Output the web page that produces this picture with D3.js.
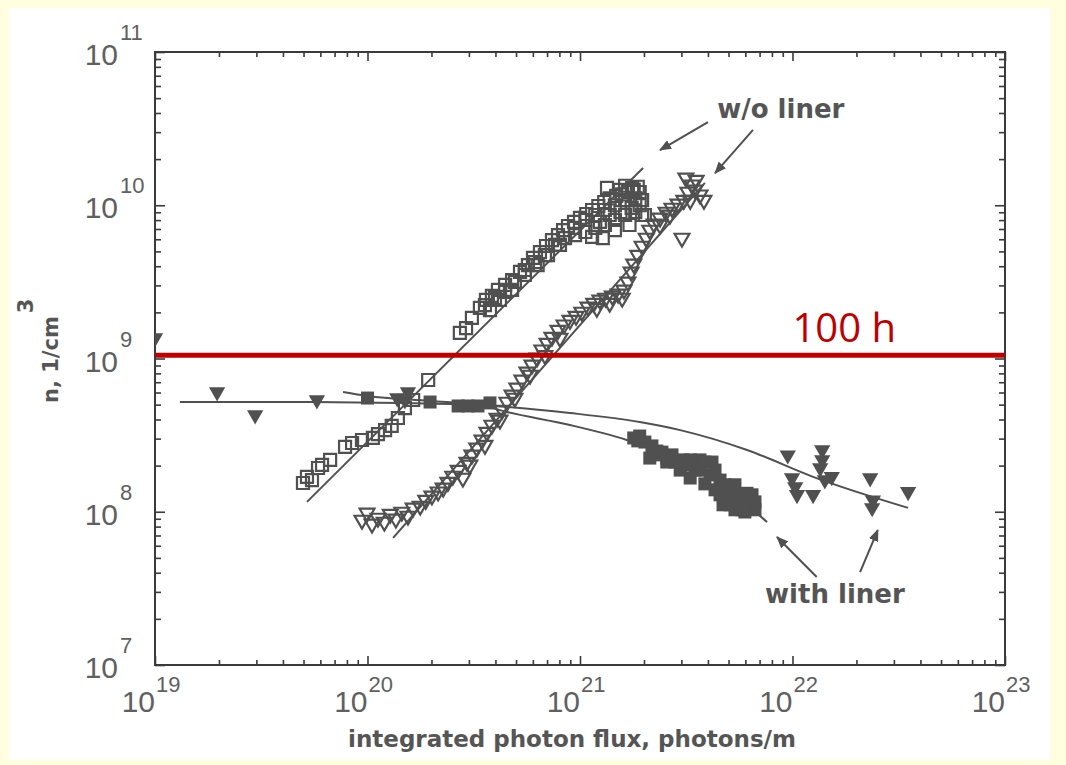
<!DOCTYPE html>
<html><head><meta charset="utf-8">
<script src="https://cdn.jsdelivr.net/npm/d3@7"></script>
<style>body{margin:0;background:#ffffe0;} svg{display:block}</style>
</head><body><svg id="c" width="1066" height="765"></svg>
<script>
// ---- axis ticks / labels ----
const xMajor = [1e19, 1e20, 1e21, 1e22, 1e23];
const xMajorSup = ["19", "20", "21", "22", "23"];
const yMajor = [1e7, 1e8, 1e9, 1e10, 1e11];
const yMajorSup = ["7", "8", "9", "10", "11"];
const xTitle = "integrated photon flux, photons/m";
const yTitle = "n, 1/cm";
const yTitleSup = "3";

// ---- w/o liner: open squares ----
const sqOpen = [
[4.97e19,1.54e8],[5.19e19,1.69e8],[5.48e19,1.61e8],[5.85e19,1.93e8],[6.11e19,2.02e8],[6.67e19,2.18e8],
[7.84e19,2.65e8],[8.46e19,2.81e8],[9.42e19,2.94e8],[1.06e20,3.03e8],[1.12e20,3.21e8],[1.21e20,3.41e8],
[1.30e20,3.63e8],[1.39e20,4.09e8],[1.50e20,4.75e8],[1.64e20,5.36e8],[1.93e20,7.24e8],[2.72e20,1.47e9],
[2.91e20,1.58e9],[3.10e20,1.84e9],[3.38e20,2.14e9],[3.61e20,2.41e9],[3.77e20,2.07e9],[3.85e20,2.56e9],
[4.11e20,2.80e9],[4.20e20,2.41e9],[4.44e20,3.02e9],[4.79e20,3.25e9],[4.79e20,2.80e9],[5.22e20,3.67e9],
[5.50e20,3.51e9],[5.69e20,4.07e9],[6.01e20,4.53e9],[6.32e20,4.07e9],[6.48e20,4.95e9],[6.92e20,5.42e9],
[7.07e20,4.73e9],[7.38e20,5.93e9],[7.88e20,6.39e9],[8.05e20,5.51e9],[8.32e20,6.89e9],[8.78e20,7.32e9],
[9.37e20,7.78e9],[9.48e20,6.39e9],[1.0e21,8.26e9],[1.07e21,8.77e9],[1.14e21,9.31e9],[1.14e21,6.21e9],
[1.22e21,9.89e9],[1.24e21,7.78e9],[1.28e21,6.11e9],[1.30e21,1.05e10],[1.34e21,1.30e10],[1.38e21,1.11e10],
[1.38e21,8.64e9],[1.46e21,6.89e9],[1.48e21,1.15e10],[1.55e21,9.03e9],[1.58e21,1.18e10],[1.63e21,1.34e10],
[1.68e21,1.22e10],[1.71e21,7.43e9],[1.75e21,9.6e9],[1.79e21,1.26e10],[1.87e21,1.32e10],[1.91e21,1.22e10],
[1.91e21,1.00e10],[2.02e21,8.64e9],
[6.14e20,4.26e9],[6.84e20,4.73e9],[7.63e20,5.51e9],[8.50e20,6.11e9],[9.46e20,7.11e9],[1.06e21,8.01e9],
[1.06e21,6.69e9],[1.18e21,8.64e9],[1.18e21,7.11e9],[1.31e21,9.31e9],[1.31e21,7.43e9],[1.46e21,1.00e10],
[1.46e21,8.01e9],[1.63e21,1.08e10],[1.63e21,8.64e9],[1.82e21,1.11e10],[1.82e21,9.03e9],[1.96e21,1.08e10],
[1.96e21,8.64e9],[1.54e21,1.26e10],[1.76e21,1.30e10],
[3.57e20,2.23e9],[3.98e20,2.48e9],[4.44e20,2.72e9],[4.94e20,3.16e9],[5.50e20,3.78e9]
];

// ---- w/o liner: open down-triangles ----
const triOpen = [
[9.42e19,8.83e7],[9.95e19,9.82e7],[1.05e20,8.32e7],[1.12e20,9.10e7],[1.20e20,8.57e7],[1.28e20,9.66e7],
[1.36e20,8.97e7],[1.45e20,9.96e7],[1.55e20,9.38e7],[1.64e20,1.06e8],[1.77e20,1.09e8],[1.88e20,1.19e8],
[2.01e20,1.27e8],[2.15e20,1.35e8],[2.27e20,1.43e8],[2.39e20,1.56e8],[2.52e20,1.71e8],[2.67e20,1.87e8],
[2.81e20,1.66e8],[2.94e20,2.11e8],[3.03e20,2.02e8],[3.10e20,2.35e8],[3.27e20,2.61e8],[3.46e20,2.94e8],
[3.57e20,2.72e8],[3.65e20,3.31e8],[3.85e20,3.68e8],[4.07e20,4.09e8],[4.20e20,3.97e8],[4.30e20,4.61e8],
[4.53e20,5.20e8],[4.79e20,5.78e8],[4.94e20,5.52e8],[5.05e20,6.42e8],[5.33e20,7.24e8],[5.63e20,8.17e8],
[5.82e20,7.80e8],[5.94e20,9.08e8],[6.28e20,1.01e9],[6.62e20,1.14e9],[6.84e20,1.05e9],[7.00e20,1.26e9],
[7.38e20,1.38e9],[7.88e20,1.53e9],[8.05e20,1.36e9],[8.41e20,1.66e9],[8.97e20,1.78e9],[9.58e20,1.89e9],
[1.02e21,2.01e9],[1.09e21,2.17e9],[1.16e21,2.30e9],[1.24e21,2.41e9],[1.32e21,2.48e9],[1.42e21,2.56e9],
[1.51e21,2.64e9],[1.61e21,2.80e9],[1.68e21,3.16e9],[1.74e21,3.67e9],[1.79e21,4.14e9],[1.87e21,4.73e9],
[1.96e21,5.42e9],[2.05e21,6.11e9],[2.13e21,6.89e9],[2.23e21,7.55e9],[2.38e21,8.26e9],[2.54e21,9.03e9],
[2.71e21,9.59e9],[2.89e21,1.02e10],[3.08e21,1.08e10],[3.22e21,1.22e10],[3.37e21,1.36e10],[3.52e21,1.46e10],
[3.67e21,1.17e10],[3.83e21,1.08e10],[3.02e21,6.11e9],[3.15e21,1.51e10],
[1.20e21,2.13e9],[1.38e21,2.30e9],[1.58e21,2.48e9],[2.38e21,7.43e9],[2.65e21,8.64e9],[3.30e21,1.08e10],[3.48e21,1.26e10]
];

// ---- with liner: filled squares ----
const sqFilled = [
[1.0e20,5.52e8],[1.97e20,5.20e8],[2.67e20,4.90e8],[2.97e20,4.90e8],[3.31e20,4.90e8],[3.77e20,5.13e8],
[1.79e21,3.03e8],[2.02e21,2.85e8],[2.30e21,2.49e8],[2.56e21,2.24e8],[3.05e21,2.18e8],[3.67e21,2.18e8],
[4.18e21,2.11e8],[4.56e21,1.61e8],[5.36e21,1.50e8],[6.11e21,1.32e8],[6.66e21,1.16e8],[1.87e21,2.90e8],
[2.13e21,2.24e8],[2.56e21,2.11e8],[2.96e21,1.87e8],[3.30e21,1.66e8],[3.87e21,1.52e8],[4.32e21,1.39e8],
[4.71e21,1.11e8],[5.36e21,1.03e8],[5.97e21,9.96e7],[6.66e21,1.03e8],[2.38e21,2.35e8],[3.48e21,1.87e8],
[4.09e21,1.74e8],[5.08e21,1.29e8],[5.66e21,1.19e8],
[1.91e21,3.12e8],[2.18e21,2.69e8],[2.43e21,2.45e8],[2.71e21,2.35e8],[3.30e21,2.18e8],[3.87e21,2.11e8],
[4.32e21,1.87e8],[4.81e21,1.50e8],[5.36e21,1.29e8],[5.97e21,1.11e8],[6.45e21,1.29e8],[3.67e21,1.87e8],
[3.12e21,2.02e8],[2.80e21,2.11e8],[4.56e21,1.29e8],[5.08e21,1.11e8],[5.78e21,1.03e8]
];

// ---- with liner: filled down-triangles ----
const triFilled = [
[1e19,1.36e9],[1.96e19,6.04e8],[2.96e19,4.28e8],[5.78e19,5.36e8],[1.38e20,5.52e8],[1.50e20,5.36e8],
[1.55e20,6.04e8],[9.5e21,2.34e8],[9.95e21,1.66e8],[1.03e22,1.45e8],[1.05e22,1.29e8],[1.25e22,1.29e8],
[1.35e22,1.93e8],[1.38e22,2.18e8],[1.38e22,2.53e8],[1.42e22,1.61e8],[1.53e22,1.69e8],[2.32e22,1.66e8],
[2.37e22,1.06e8],[2.39e22,1.19e8],[3.5e22,1.35e8]
];

// ---- fit lines / curves ----
const fitSqOpen = [[5.19e19,1.16e8],[1.98e21,1.75e10]];
const fitTriOpen = [[1.32e20,6.75e7],[3.87e21,1.40e10]];
const curveTriFilled = [[1.31e19,5.20e8],[4.81e19,5.20e8],[1.42e20,5.13e8],[3.38e20,4.97e8],[4.53e20,4.83e8],
  [8.97e20,4.41e8],[1.91e21,3.85e8],[2.96e21,3.41e8],[6.11e21,2.53e8],[1.25e22,1.69e8],[3.50e22,1.06e8]];
const curveSqFilled = [[7.67e19,6.04e8],[1.0e20,5.69e8],[1.97e20,5.28e8],[3.38e20,4.97e8],[4.53e20,4.48e8],
  [8.97e20,3.68e8],[1.66e21,2.94e8],[2.96e21,2.18e8],[4.56e21,1.52e8],[7.59e21,8.57e7]];

// ---- reference level and annotations ----
const refLevel = 1.05e9;
const refLabel = {text: "100 h", x: 1.0e22, y: 1.28e9};
const notes = [{text: "w/o liner", x: 4.42e21, y: 3.71e10}, {text: "with liner", x: 7.43e21, y: 2.54e7}];
const arrows = [
  [4.0e21,3.49e10, 2.38e21,2.29e10],
  [6.52e21,3.10e10, 4.32e21,1.62e10],
  [1.30e22,3.75e7, 8.45e21,6.84e7],
  [2.08e22,4.04e7, 2.52e22,7.60e7]
];

// ---------------- drawing ----------------
const svg = d3.select("#c");
const L = 155, R = 1005, T = 52, B = 665;
const x = d3.scaleLog().domain([1e19, 1e23]).range([L, R]);
const y = d3.scaleLog().domain([1e7, 1e11]).range([B, T]);
const ink = "#505050";

svg.append("rect").attr("x", 9).attr("y", 8).attr("width", 1041).attr("height", 752).attr("fill", "#ffffff");

const defs = svg.append("defs");
defs.append("clipPath").attr("id", "clip").append("rect").attr("x", L).attr("y", T).attr("width", R - L).attr("height", B - T);
defs.append("marker").attr("id", "ah").attr("viewBox", "0 0 12 10").attr("refX", 11).attr("refY", 5)
  .attr("markerWidth", 12).attr("markerHeight", 10).attr("markerUnits", "userSpaceOnUse").attr("orient", "auto")
  .append("path").attr("d", "M0,0 L12,5 L0,10 Z").attr("fill", ink);

// axes (ticks inside, mirrored)
const xMinor = x.ticks().filter(v => !xMajor.some(m => Math.abs(m - v) / m < 1e-6));
const yMinor = y.ticks().filter(v => !yMajor.some(m => Math.abs(m - v) / m < 1e-6));
function axisG(axis, tx, ty) {
  const g = svg.append("g").attr("transform", `translate(${tx},${ty})`).call(axis);
  g.select(".domain").remove();
  g.selectAll("line").attr("stroke", "#3a3a3a").attr("stroke-width", 1.6);
  g.selectAll("text").remove();
  return g;
}
axisG(d3.axisBottom(x).tickValues(xMinor).tickSize(-5), 0, B);
axisG(d3.axisBottom(x).tickValues(xMajor).tickSize(-9), 0, B);
axisG(d3.axisTop(x).tickValues(xMinor).tickSize(-5), 0, T);
axisG(d3.axisTop(x).tickValues(xMajor).tickSize(-9), 0, T);
axisG(d3.axisLeft(y).tickValues(yMinor).tickSize(-6), L, 0);
axisG(d3.axisLeft(y).tickValues(yMajor).tickSize(-10), L, 0);
axisG(d3.axisRight(y).tickValues(yMinor).tickSize(-6), R, 0);
axisG(d3.axisRight(y).tickValues(yMajor).tickSize(-10), R, 0);
svg.append("rect").attr("x", L).attr("y", T).attr("width", R - L).attr("height", B - T)
  .attr("fill", "none").attr("stroke", "#3a3a3a").attr("stroke-width", 2);

// tick labels
const lab = svg.append("g").attr("font-family", "'Liberation Sans', Arial, sans-serif").attr("fill", "#606060");
xMajor.forEach((v, i) => {
  lab.append("text").attr("x", x(v)).attr("y", B + 47).attr("text-anchor", "end").attr("font-size", 30).text("10");
  lab.append("text").attr("x", x(v) + 1).attr("y", B + 27).attr("font-size", 22).text(xMajorSup[i]);
});
yMajor.forEach((v, i) => {
  lab.append("text").attr("x", L - 37).attr("y", y(v) + 13).attr("text-anchor", "end").attr("font-size", 30).text("10");
  lab.append("text").attr("x", L - 35).attr("y", y(v) - 12).attr("font-size", 22).text(yMajorSup[i]);
});

// axis titles
const tf = "'DejaVu Sans', sans-serif";
svg.append("text").attr("x", (L + R) / 2 - 8).attr("y", 747).attr("text-anchor", "middle")
  .attr("font-family", tf).attr("font-weight", "bold").attr("font-size", 23).attr("fill", "#555").text(xTitle);
const yt = svg.append("text").attr("transform", "translate(58,403) rotate(-90)")
  .attr("font-family", tf).attr("font-weight", "bold").attr("font-size", 21).attr("fill", "#555");
yt.append("tspan").text(yTitle);
yt.append("tspan").attr("dx", 3).attr("dy", -25).text(yTitleSup);

// data
const plot = svg.append("g").attr("clip-path", "url(#clip)");
const line = d3.line().x(d => x(d[0])).y(d => y(d[1]));
const curve = d3.line().x(d => x(d[0])).y(d => y(d[1])).curve(d3.curveMonotoneX);
[fitSqOpen, fitTriOpen].forEach(p => plot.append("path").attr("d", line(p)).attr("fill", "none").attr("stroke", ink).attr("stroke-width", 2));
[curveTriFilled, curveSqFilled].forEach(p => plot.append("path").attr("d", curve(p)).attr("fill", "none").attr("stroke", ink).attr("stroke-width", 2));

const sq = (s) => d3.symbol().type(d3.symbolSquare).size(s)();
const tri = (s) => d3.symbol().type(d3.symbolTriangle).size(s)();
plot.selectAll(".so").data(sqOpen).join("path").attr("d", sq(144))
  .attr("transform", d => `translate(${x(d[0])},${y(d[1])})`).attr("fill", "none").attr("stroke", ink).attr("stroke-width", 2.2);
plot.selectAll(".to").data(triOpen).join("path").attr("d", tri(95))
  .attr("transform", d => `translate(${x(d[0])},${y(d[1])}) rotate(180)`).attr("fill", "none").attr("stroke", ink).attr("stroke-width", 2.2);
plot.selectAll(".sf").data(sqFilled).join("path").attr("d", sq(169))
  .attr("transform", d => `translate(${x(d[0])},${y(d[1])})`).attr("fill", ink);
plot.selectAll(".tf").data(triFilled).join("path").attr("d", tri(115))
  .attr("transform", d => `translate(${x(d[0])},${y(d[1])}) rotate(180)`).attr("fill", ink);

// reference line
svg.append("line").attr("x1", L).attr("x2", R).attr("y1", y(refLevel)).attr("y2", y(refLevel))
  .attr("stroke", "#c00000").attr("stroke-width", 5);
svg.append("text").attr("x", x(refLabel.x)).attr("y", y(refLabel.y)).attr("font-family", "'Open Sans', sans-serif")
  .attr("font-size", 40).attr("fill", "#c00000").text(refLabel.text);

// annotations
notes.forEach(n => svg.append("text").attr("x", x(n.x)).attr("y", y(n.y)).attr("font-family", tf)
  .attr("font-weight", "bold").attr("font-size", 26).attr("fill", "#555").text(n.text));
arrows.forEach(a => svg.append("line").attr("x1", x(a[0])).attr("y1", y(a[1])).attr("x2", x(a[2])).attr("y2", y(a[3]))
  .attr("stroke", ink).attr("stroke-width", 2).attr("marker-end", "url(#ah)"));
</script></body></html>
